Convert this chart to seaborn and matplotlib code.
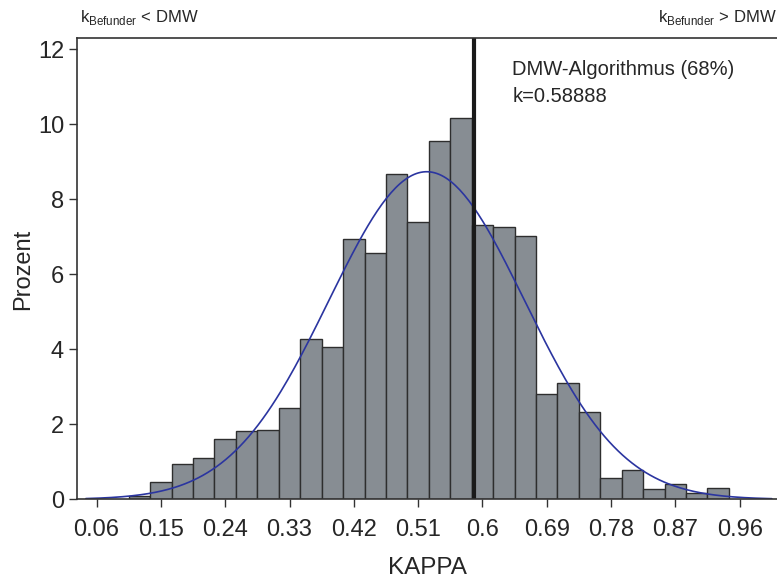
import numpy as np
import pandas as pd
import matplotlib
matplotlib.use("Agg")
import matplotlib.pyplot as plt
import seaborn as sns

# bin centres (KAPPA) and percent per bin
kappa_centres = [0.12, 0.15, 0.18, 0.21, 0.24, 0.27, 0.30, 0.33, 0.36, 0.39,
                 0.42, 0.45, 0.48, 0.51, 0.54, 0.57, 0.60, 0.63, 0.66, 0.69,
                 0.72, 0.75, 0.78, 0.81, 0.84, 0.87, 0.90, 0.93]
prozent = [0.10, 0.47, 0.94, 1.11, 1.61, 1.81, 1.85, 2.44, 4.28, 4.07,
           6.95, 6.57, 8.68, 7.39, 9.55, 10.17, 7.31, 7.25, 7.03, 2.80,
           3.09, 2.34, 0.56, 0.77, 0.27, 0.40, 0.18, 0.29]
bin_width = 0.03

# fitted normal curve parameters
fit_mu = 0.522
fit_sigma = 0.137
dmw_k = 0.58888

tick_values = [0.06, 0.15, 0.24, 0.33, 0.42, 0.51, 0.6, 0.69, 0.78, 0.87, 0.96]
y_ticks = [0, 2, 4, 6, 8, 10, 12]


def main():
    sns.set_style("ticks")
    plt.rcParams['font.family'] = ['Liberation Sans', 'DejaVu Sans']
    plt.rcParams['mathtext.fontset'] = 'custom'
    plt.rcParams['mathtext.rm'] = 'Liberation Sans'

    df = pd.DataFrame({'KAPPA': kappa_centres, 'Prozent': prozent})

    fig = plt.figure(figsize=(7.77, 5.79), dpi=100)
    ax = fig.add_axes([0.0995, 0.1376, 0.9005, 0.796])

    sns.histplot(data=df, x='KAPPA', weights='Prozent', binwidth=bin_width,
                 binrange=(kappa_centres[0] - bin_width / 2, kappa_centres[-1] + bin_width / 2),
                 color='#878d93', edgecolor='#2e2e2e', linewidth=1.0, alpha=1, ax=ax)

    # normal fit scaled to percent per bin
    xs = np.linspace(0.045, 1.005, 300)
    ys = 100 * bin_width / (fit_sigma * np.sqrt(2 * np.pi)) * np.exp(-0.5 * ((xs - fit_mu) / fit_sigma) ** 2)
    sns.lineplot(x=xs, y=ys, color='#2b35a0', linewidth=1.2, ax=ax)

    ax.axvline(dmw_k, color='#1a1a1a', linewidth=3)

    ax.text(0.642, 11.47, 'DMW-Algorithmus (68%)', fontsize=14.5, va='center')
    ax.text(0.642, 10.73, 'k=0.58888', fontsize=14.5, va='center')

    fig.text(0.103, 0.953, r'k$_{\mathrm{Befunder}}$ < DMW', fontsize=12, va='bottom')
    fig.text(0.9995, 0.953, r'k$_{\mathrm{Befunder}}$ > DMW', fontsize=12, va='bottom', ha='right')

    ax.set_xlim(0.033, 1.0123)
    ax.set_ylim(0, 12.29)
    ax.set_xticks(tick_values)
    ax.set_xticklabels([f"{v:g}" for v in tick_values])
    ax.set_yticks(y_ticks)
    ax.tick_params(axis='both', labelsize=17, length=6, width=1, color='#333333')
    ax.tick_params(axis='x', pad=8)
    ax.set_xlabel('KAPPA', fontsize=17.5, labelpad=12)
    ax.set_ylabel('Prozent', fontsize=17, labelpad=3)

    ax.spines['right'].set_visible(False)
    for s in ['left', 'bottom', 'top']:
        ax.spines[s].set_color('#333333')
        ax.spines[s].set_linewidth(1.2)

    plt.savefig("out.png", dpi=100)
    plt.close()


if __name__ == "__main__":
    main()
